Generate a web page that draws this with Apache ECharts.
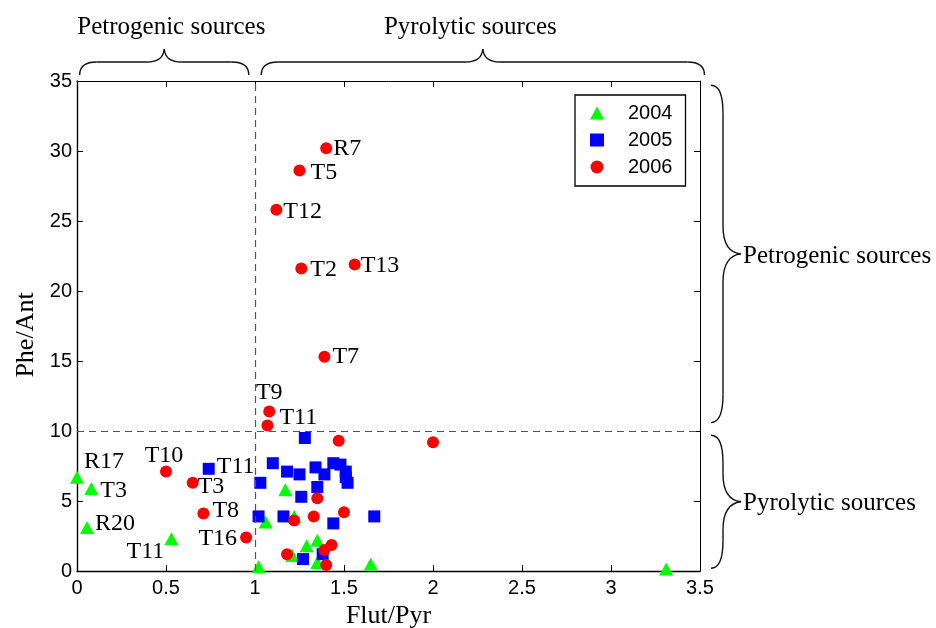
<!DOCTYPE html>
<html>
<head>
<meta charset="utf-8">
<title>Flut/Pyr vs Phe/Ant</title>
<script src="https://cdn.jsdelivr.net/npm/echarts@6/dist/echarts.min.js"></script>
<style>
  html, body { margin: 0; padding: 0; background: #fff; }
  #chart { width: 936px; height: 628px; }
</style>
</head>
<body>
<div id="chart"></div>
<script>
// Diagnostic ratios by sampling year
const years = ['2004', '2005', '2006'];

const flut2004 = [0.00, 0.08, 0.056, 0.53, 1.02, 1.17, 1.06, 1.22, 1.21, 1.29, 1.35, 1.35, 1.65, 3.31];
const phe2004  = [6.7, 5.9, 3.1, 2.3, 0.3, 5.8, 3.5, 3.9, 1.1, 1.8, 2.2, 0.6, 0.5, 0.15];
const tag2004  = ['R17', 'T3', 'R20', 'T11', '', '', '', '', '', '', '', '', '', ''];

const flut2005 = [0.74, 1.28, 1.10, 1.18, 1.25, 1.34, 1.39, 1.44, 1.48, 1.51, 1.52, 1.51, 1.03, 1.35, 1.26, 1.02, 1.16, 1.44, 1.67, 1.27, 1.38];
const phe2005  = [7.3, 9.5, 7.7, 7.1, 6.9, 7.4, 6.9, 7.7, 7.6, 7.1, 6.3, 6.7, 6.3, 6.0, 5.3, 3.9, 3.9, 3.4, 3.9, 0.85, 1.2];
const tag2005  = ['T11', '', '', '', '', '', '', '', '', '', '', '', '', '', '', '', '', '', '', '', ''];

const flut2006 = [1.40, 1.25, 1.12, 1.26, 1.56, 1.39, 1.08, 1.07, 1.47, 2.00, 0.50, 0.65, 0.71, 0.95, 1.35, 1.22, 1.33, 1.50, 1.18, 1.39, 1.43, 1.40];
const phe2006  = [30.2, 28.6, 25.8, 21.6, 21.9, 15.3, 11.4, 10.4, 9.3, 9.2, 7.1, 6.3, 4.1, 2.4, 5.2, 3.6, 3.9, 4.2, 1.2, 1.5, 1.85, 0.43];
const tag2006  = ['R7', 'T5', 'T12', 'T2', 'T13', 'T7', 'T9', 'T11', '', '', 'T10', 'T3', 'T8', 'T16', '', '', '', '', '', '', '', ''];

const xTicks = { min: 0, max: 3.5, step: 0.5 };
const yTicks = { min: 0, max: 35, step: 5 };
const ratioLimits = { flut: 1, phe: 10 };

// where each sample tag sits around its marker
const labelPlacement = {
  '2004:R17': { position: 'right', distance: 0, offset: [0, -15] },
  '2004:T3':  { position: 'right', distance: 2, offset: [0, 2] },
  '2004:R20': { position: 'right', distance: 1, offset: [0, -4] },
  '2004:T11': { position: 'left',  distance: 0, offset: [0, 13] },
  '2005:T11': { position: 'right', distance: 2, offset: [0, -2] },
  '2006:R7':  { position: 'right', distance: 1, offset: [0, 1] },
  '2006:T5':  { position: 'right', distance: 5, offset: [0, 2] },
  '2006:T12': { position: 'right', distance: 1, offset: [0, 2] },
  '2006:T2':  { position: 'right', distance: 3, offset: [0, 1] },
  '2006:T13': { position: 'right', distance: 0, offset: [0, 1] },
  '2006:T7':  { position: 'right', distance: 2, offset: [0, 0] },
  '2006:T9':  { position: 'top',   distance: 1, offset: [0, 0] },
  '2006:T11': { position: 'right', distance: 6, offset: [0, -8] },
  '2006:T10': { position: 'top',   distance: 0, offset: [-2, 2] },
  '2006:T3':  { position: 'right', distance: 0, offset: [-1, 4] },
  '2006:T8':  { position: 'right', distance: 3, offset: [0, -3] },
  '2006:T16': { position: 'left',  distance: 3, offset: [0, 1] }
};

const serif = '"Liberation Serif", "Times New Roman", serif';
const sans = '"Liberation Sans", Arial, sans-serif';

function points(year, xs, ys, tags) {
  return xs.map((x, i) => {
    const tag = tags[i];
    const item = { value: [x, ys[i]] };
    if (tag) {
      const p = labelPlacement[year + ':' + tag] || { position: 'right', distance: 3, offset: [0, 0] };
      item.label = {
        show: true,
        formatter: tag,
        position: p.position,
        distance: p.distance,
        offset: p.offset,
        color: '#000',
        opacity: 1,
        fontFamily: serif,
        fontSize: 24
      };
    }
    return item;
  });
}

const axisCommon = {
  type: 'value',
  axisLine: { show: true, onZero: false, lineStyle: { color: '#000', width: 1.4 } },
  axisTick: { show: true, inside: true, length: 6, lineStyle: { color: '#000', width: 1 } },
  splitLine: { show: false }
};

const chart = echarts.init(document.getElementById('chart'), null, { renderer: 'canvas' });

const option = {
  animation: false,
  backgroundColor: '#fff',
  grid: { left: 77, right: 236, top: 81, bottom: 57, containLabel: false, outerBoundsMode: 'none' },
  legend: {
    data: years,
    orient: 'vertical',
    left: 575,
    top: 95,
    padding: [8, 13, 9, 15],
    itemWidth: 14,
    itemHeight: 13,
    itemGap: 7,
    borderColor: '#000',
    borderWidth: 1.3,
    backgroundColor: '#fff',
    textStyle: { color: '#000', fontFamily: sans, fontSize: 20, padding: [0, 0, 0, 19] }
  },
  xAxis: [
    Object.assign({}, axisCommon, {
      min: xTicks.min, max: xTicks.max, interval: xTicks.step,
      position: 'bottom',
      name: 'Flut/Pyr', nameLocation: 'middle', nameGap: 30,
      nameTextStyle: { color: '#000', fontFamily: serif, fontSize: 26 },
      axisLabel: { color: '#000', fontFamily: sans, fontSize: 20, margin: 7 }
    }),
    Object.assign({}, axisCommon, {
      min: xTicks.min, max: xTicks.max, interval: xTicks.step,
      position: 'top',
      axisLine: { show: true, onZero: false, lineStyle: { color: '#000', width: 1 } },
      axisLabel: { show: false }
    })
  ],
  yAxis: [
    Object.assign({}, axisCommon, {
      min: yTicks.min, max: yTicks.max, interval: yTicks.step,
      position: 'left',
      name: 'Phe/Ant', nameLocation: 'middle', nameGap: 36,
      nameTextStyle: { color: '#000', fontFamily: serif, fontSize: 26, padding: [0, 0, 0, -18] },
      axisLabel: { color: '#000', fontFamily: sans, fontSize: 20, margin: 5 }
    }),
    Object.assign({}, axisCommon, {
      min: yTicks.min, max: yTicks.max, interval: yTicks.step,
      position: 'right',
      axisLine: { show: true, onZero: false, lineStyle: { color: '#000', width: 1 } },
      axisLabel: { show: false }
    })
  ],
  series: [
    {
      name: 'limits',
      type: 'scatter',
      data: [],
      silent: true,
      markLine: {
        silent: true,
        symbol: ['none', 'none'],
        label: { show: false },
        lineStyle: { color: '#555', type: [7, 5], width: 1.2 },
        data: [{ xAxis: ratioLimits.flut }, { yAxis: ratioLimits.phe }]
      }
    },
    {
      name: '2004',
      type: 'scatter',
      symbol: 'triangle',
      symbolSize: [14, 13],
      itemStyle: { color: '#00ff00', opacity: 1 },
      data: points('2004', flut2004, phe2004, tag2004)
    },
    {
      name: '2005',
      type: 'scatter',
      symbol: 'rect',
      symbolSize: 12,
      itemStyle: { color: '#0000ff', opacity: 1 },
      data: points('2005', flut2005, phe2005, tag2005)
    },
    {
      name: '2006',
      type: 'scatter',
      symbol: 'circle',
      symbolSize: 12,
      itemStyle: { color: '#ff0000', opacity: 1 },
      data: points('2006', flut2006, phe2006, tag2006)
    }
  ]
};

chart.setOption(option);

// Curly braces that mark the source regions, laid out along the axes
function braceCurves(map, L, h, D, r) {
  const m = L / 2;
  const segs = [
    [[0, 0], [0, 0.55 * h], [0.25 * r, h], [r, h]],
    [[r, h], [r, h], [m - r, h], [m - r, h]],
    [[m - r, h], [m - 0.45 * r, h], [m - 0.05 * r, h + 0.25 * (D - h)], [m, D]],
    [[m, D], [m + 0.05 * r, h + 0.25 * (D - h)], [m + 0.45 * r, h], [m + r, h]],
    [[m + r, h], [m + r, h], [L - r, h], [L - r, h]],
    [[L - r, h], [L - 0.25 * r, h], [L, 0.55 * h], [L, 0]]
  ];
  return segs.map(s => {
    const p0 = map(s[0]), c1 = map(s[1]), c2 = map(s[2]), p1 = map(s[3]);
    return {
      type: 'bezierCurve',
      silent: true,
      shape: { x1: p0[0], y1: p0[1], cpx1: c1[0], cpy1: c1[1], cpx2: c2[0], cpy2: c2[1], x2: p1[0], y2: p1[1] },
      style: { stroke: '#111', lineWidth: 1.4, fill: null }
    };
  });
}

function px(x, y) { return chart.convertToPixel({ gridIndex: 0 }, [x, y]); }

function topBrace(xa, xb, baseY) {
  const a = px(xa, 0)[0], b = px(xb, 0)[0];
  return braceCurves(([u, v]) => [a + u, baseY - v], b - a, 13, 26, 17);
}

function rightBrace(yTop, yBottom, baseX) {
  const a = px(0, yTop)[1], b = px(0, yBottom)[1];
  return braceCurves(([u, v]) => [baseX + v, a + u], b - a, 12, 30, 28);
}

const gridTop = px(0, yTicks.max)[1];
const gridRight = px(xTicks.max, 0)[0];

const captionStyle = { fill: '#000', fontFamily: serif, fontSize: 25 };

const braces = []
  .concat(topBrace(0.015, 0.965, gridTop - 6))
  .concat(topBrace(1.035, 3.525, gridTop - 6))
  .concat(rightBrace(34.7, 10.6, gridRight + 11))
  .concat(rightBrace(9.7, 0.2, gridRight + 11));

const captions = [
  { text: 'Petrogenic sources', x: px(0.53, 0)[0], y: gridTop - 54, align: 'center' },
  { text: 'Pyrolytic sources', x: px(2.21, 0)[0], y: gridTop - 54, align: 'center' },
  { text: 'Petrogenic sources', x: gridRight + 43, y: px(0, 22.5)[1], align: 'left' },
  { text: 'Pyrolytic sources', x: gridRight + 43, y: px(0, 4.8)[1], align: 'left' }
].map(c => ({
  type: 'text',
  silent: true,
  x: c.x,
  y: c.y,
  style: Object.assign({ text: c.text, align: c.align, verticalAlign: 'middle' }, captionStyle)
}));

chart.setOption({ graphic: { elements: braces.concat(captions) } });
</script>
</body>
</html>
